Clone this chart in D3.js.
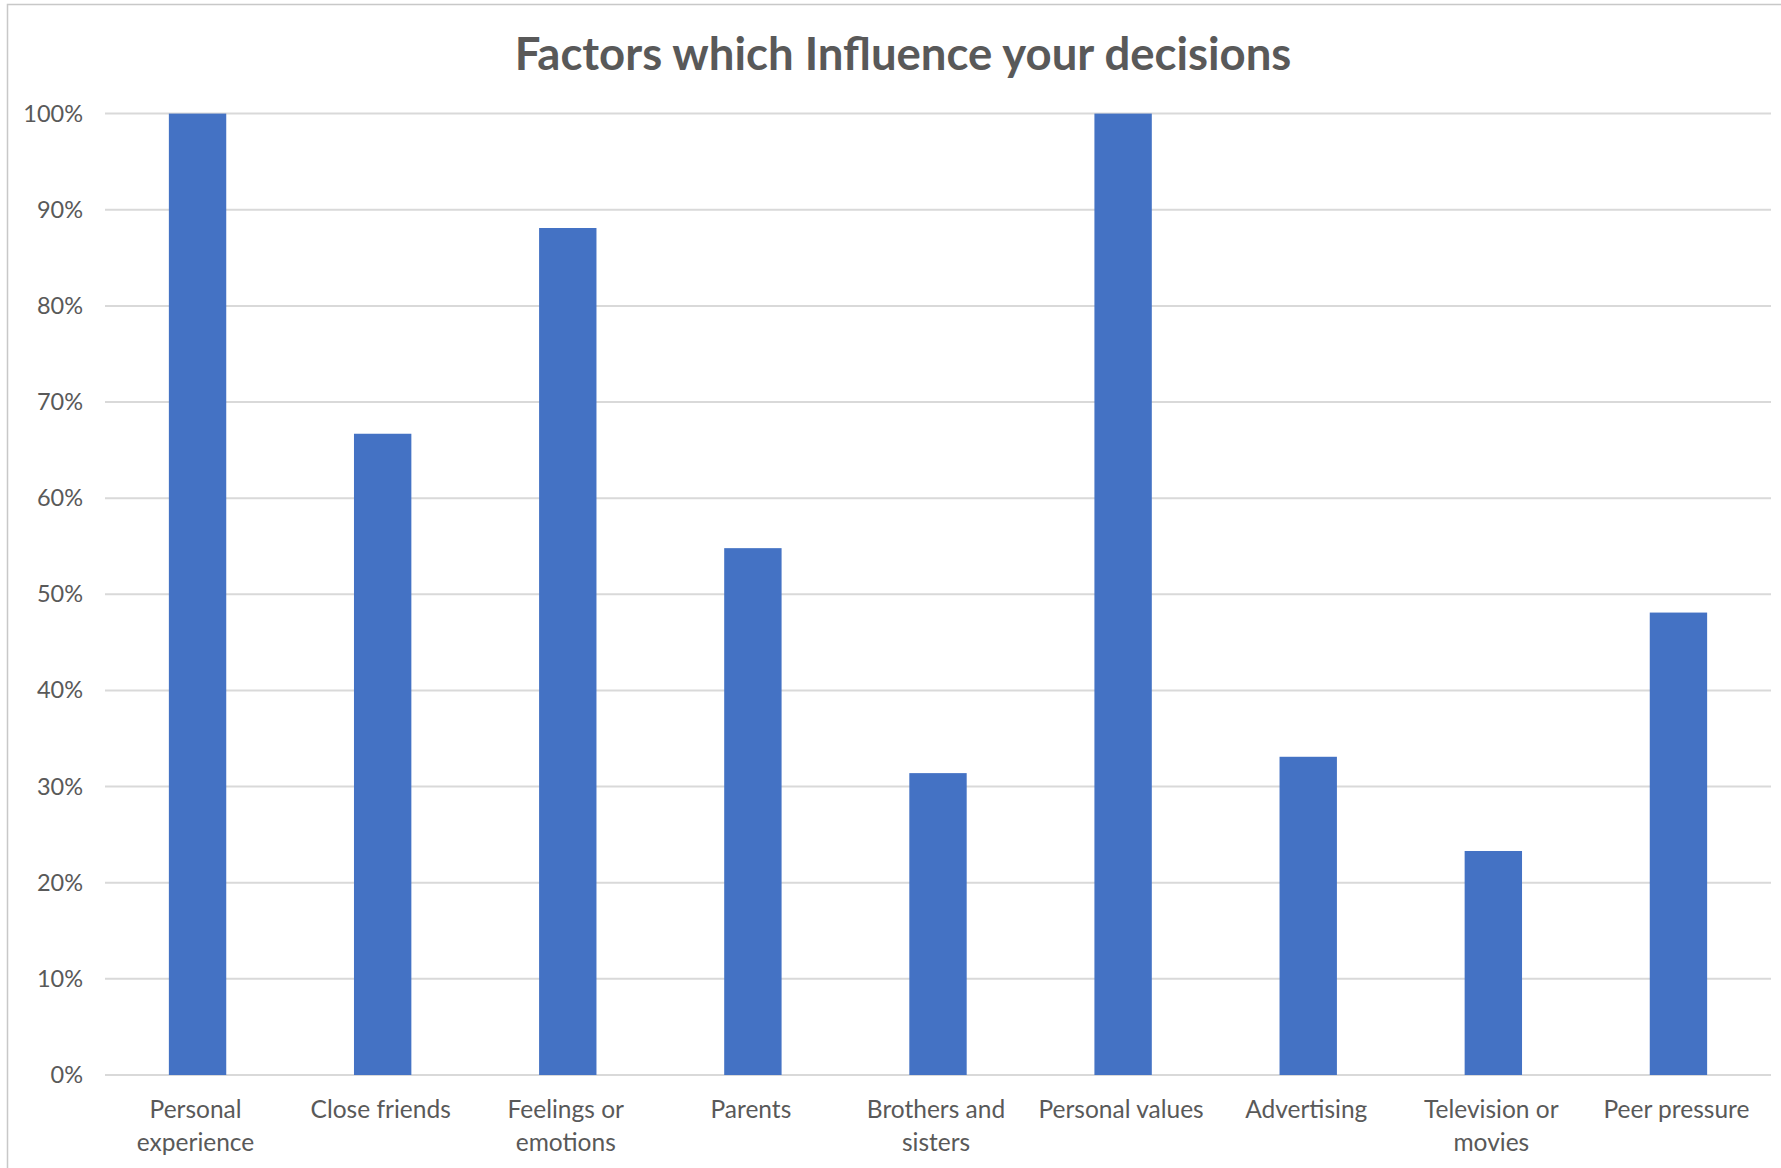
<!DOCTYPE html>
<html>
<head>
<meta charset="utf-8">
<script src="https://cdn.jsdelivr.net/npm/d3@7"></script>
<style>
  html, body { margin: 0; padding: 0; background: #ffffff; }
  svg { display: block; }
</style>
</head>
<body>
<svg id="chart" width="1781" height="1168"></svg>
<script>
const title = "Factors which Influence your decisions";
const categories = ["Personal experience", "Close friends", "Feelings or emotions", "Parents",
  "Brothers and sisters", "Personal values", "Advertising", "Television or movies", "Peer pressure"];
const categoryLines = [["Personal", "experience"], ["Close friends"], ["Feelings or", "emotions"], ["Parents"],
  ["Brothers and", "sisters"], ["Personal values"], ["Advertising"], ["Television or", "movies"], ["Peer pressure"]];
const values = [1.00, 0.667, 0.881, 0.548, 0.314, 1.00, 0.331, 0.233, 0.481];
const yTicks = [0, 0.1, 0.2, 0.3, 0.4, 0.5, 0.6, 0.7, 0.8, 0.9, 1.0];

const W = 1781, H = 1168;
const svg = d3.select("#chart");
const textColor = "#595959";
const fontFamily = "Lato, 'Open Sans', sans-serif";

// outer frame
svg.append("rect")
  .attr("x", 7.5).attr("y", 4.5)
  .attr("width", W + 10).attr("height", H + 10)
  .attr("fill", "#ffffff")
  .attr("stroke", "#c8c8c8").attr("stroke-width", 1.5);

const plot = { left: 105, right: 1771, top: 113.6, bottom: 1075 };

const x = d3.scaleBand()
  .domain(categories)
  .range([plot.left, plot.right])
  .paddingInner(0.69)
  .paddingOuter(0.345);

const y = d3.scaleLinear()
  .domain([0, 1])
  .range([plot.bottom, plot.top]);

// gridlines
svg.append("g")
  .selectAll("line")
  .data(yTicks)
  .join("line")
  .attr("x1", plot.left).attr("x2", plot.right)
  .attr("y1", d => y(d)).attr("y2", d => y(d))
  .attr("stroke", "#d9d9d9").attr("stroke-width", 2);

// y axis labels
const yAxis = d3.axisLeft(y).tickValues(yTicks).tickFormat(d3.format(".0%")).tickSize(0).tickPadding(0);
const gy = svg.append("g").attr("transform", "translate(83,0)").call(yAxis);
gy.select(".domain").remove();
gy.selectAll("text")
  .attr("fill", textColor)
  .style("font-family", fontFamily)
  .style("font-size", "23.5px");

// bars
svg.append("g")
  .selectAll("rect")
  .data(values)
  .join("rect")
  .attr("x", (d, i) => x(categories[i]))
  .attr("y", d => y(d))
  .attr("width", x.bandwidth())
  .attr("height", d => y(0) - y(d))
  .attr("fill", "#4472C4");

// x labels
const xl = svg.append("g")
  .selectAll("text")
  .data(categories)
  .join("text")
  .attr("x", d => x(d) + x.bandwidth() / 2)
  .attr("y", 1118)
  .attr("text-anchor", "middle")
  .attr("fill", textColor)
  .style("font-family", fontFamily)
  .style("font-size", "24.5px");
xl.each(function(d, i) {
  d3.select(this).selectAll("tspan")
    .data(categoryLines[i])
    .join("tspan")
    .attr("x", x(d) + x.bandwidth() / 2 - 2)
    .attr("dy", (t, j) => j === 0 ? 0 : 33)
    .text(t => t);
});

// title
svg.append("text")
  .attr("x", 903)
  .attr("y", 70)
  .attr("text-anchor", "middle")
  .attr("fill", textColor)
  .style("font-family", fontFamily)
  .style("font-weight", "bold")
  .style("font-size", "45.5px")
  .text(title);
</script>
</body>
</html>
